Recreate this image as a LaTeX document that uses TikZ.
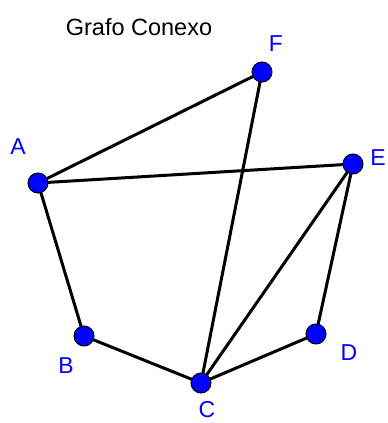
\documentclass[tikz,border=0pt]{standalone}
\usepackage{fontspec}
\setmainfont{Liberation Sans}
\usetikzlibrary{positioning,backgrounds}
\definecolor{vblue}{rgb}{0,0,1}
\tikzset{
  vertex/.style={
    inner sep = 0pt,
    minimum size = 20pt,
    shape = circle,
    draw,
    fill = vblue,
    line width = 1pt
  },
}
\tikzset{
  vlabel/.style={
    text = vblue,
    font = \fontsize{23}{27}\selectfont,
    inner sep = 0pt
  },
  edge/.style={
    line width = 3pt
  }
}

\begin{document}
\begin{tikzpicture}[x=1pt,y=-1pt]
       \useasboundingbox (0,0) rectangle (388,423);

       \node[font=\fontsize{23.5}{28}\selectfont] (title) at (139,27) {Grafo Conexo};

       % vertices
       \node[vertex] (A) at (38,183) {};
       \node[vertex] (F) at (262,72) {};
       \node[vertex] (E) at (353,164) {};
       \node[vertex] (D) at (316,334) {};
       \node[vertex] (C) at (201,383) {};
       \node[vertex] (B) at (84,336) {};

       % edges
       \begin{scope}[on background layer]
       \draw[edge] (A.center) -- (F.center);
       \draw[edge] (A.center) -- (E.center);
       \draw[edge] (A.center) -- (B.center);
       \draw[edge] (B.center) -- (C.center);
       \draw[edge] (C.center) -- (D.center);
       \draw[edge] (D.center) -- (E.center);
       \draw[edge] (C.center) -- (E.center);
       \draw[edge] (C.center) -- (F.center);
       \end{scope}

       % labels
       \node[vlabel] (lA) at (18,147) {A};
       \node[vlabel] (lF) at (276,44) {F};
       \node[vlabel] (lE) at (378,158) {E};
       \node[vlabel] (lD) at (349,353) {D};
       \node[vlabel] (lC) at (207,410) {C};
       \node[vlabel] (lB) at (66,366) {B};
\end{tikzpicture}
\end{document}
